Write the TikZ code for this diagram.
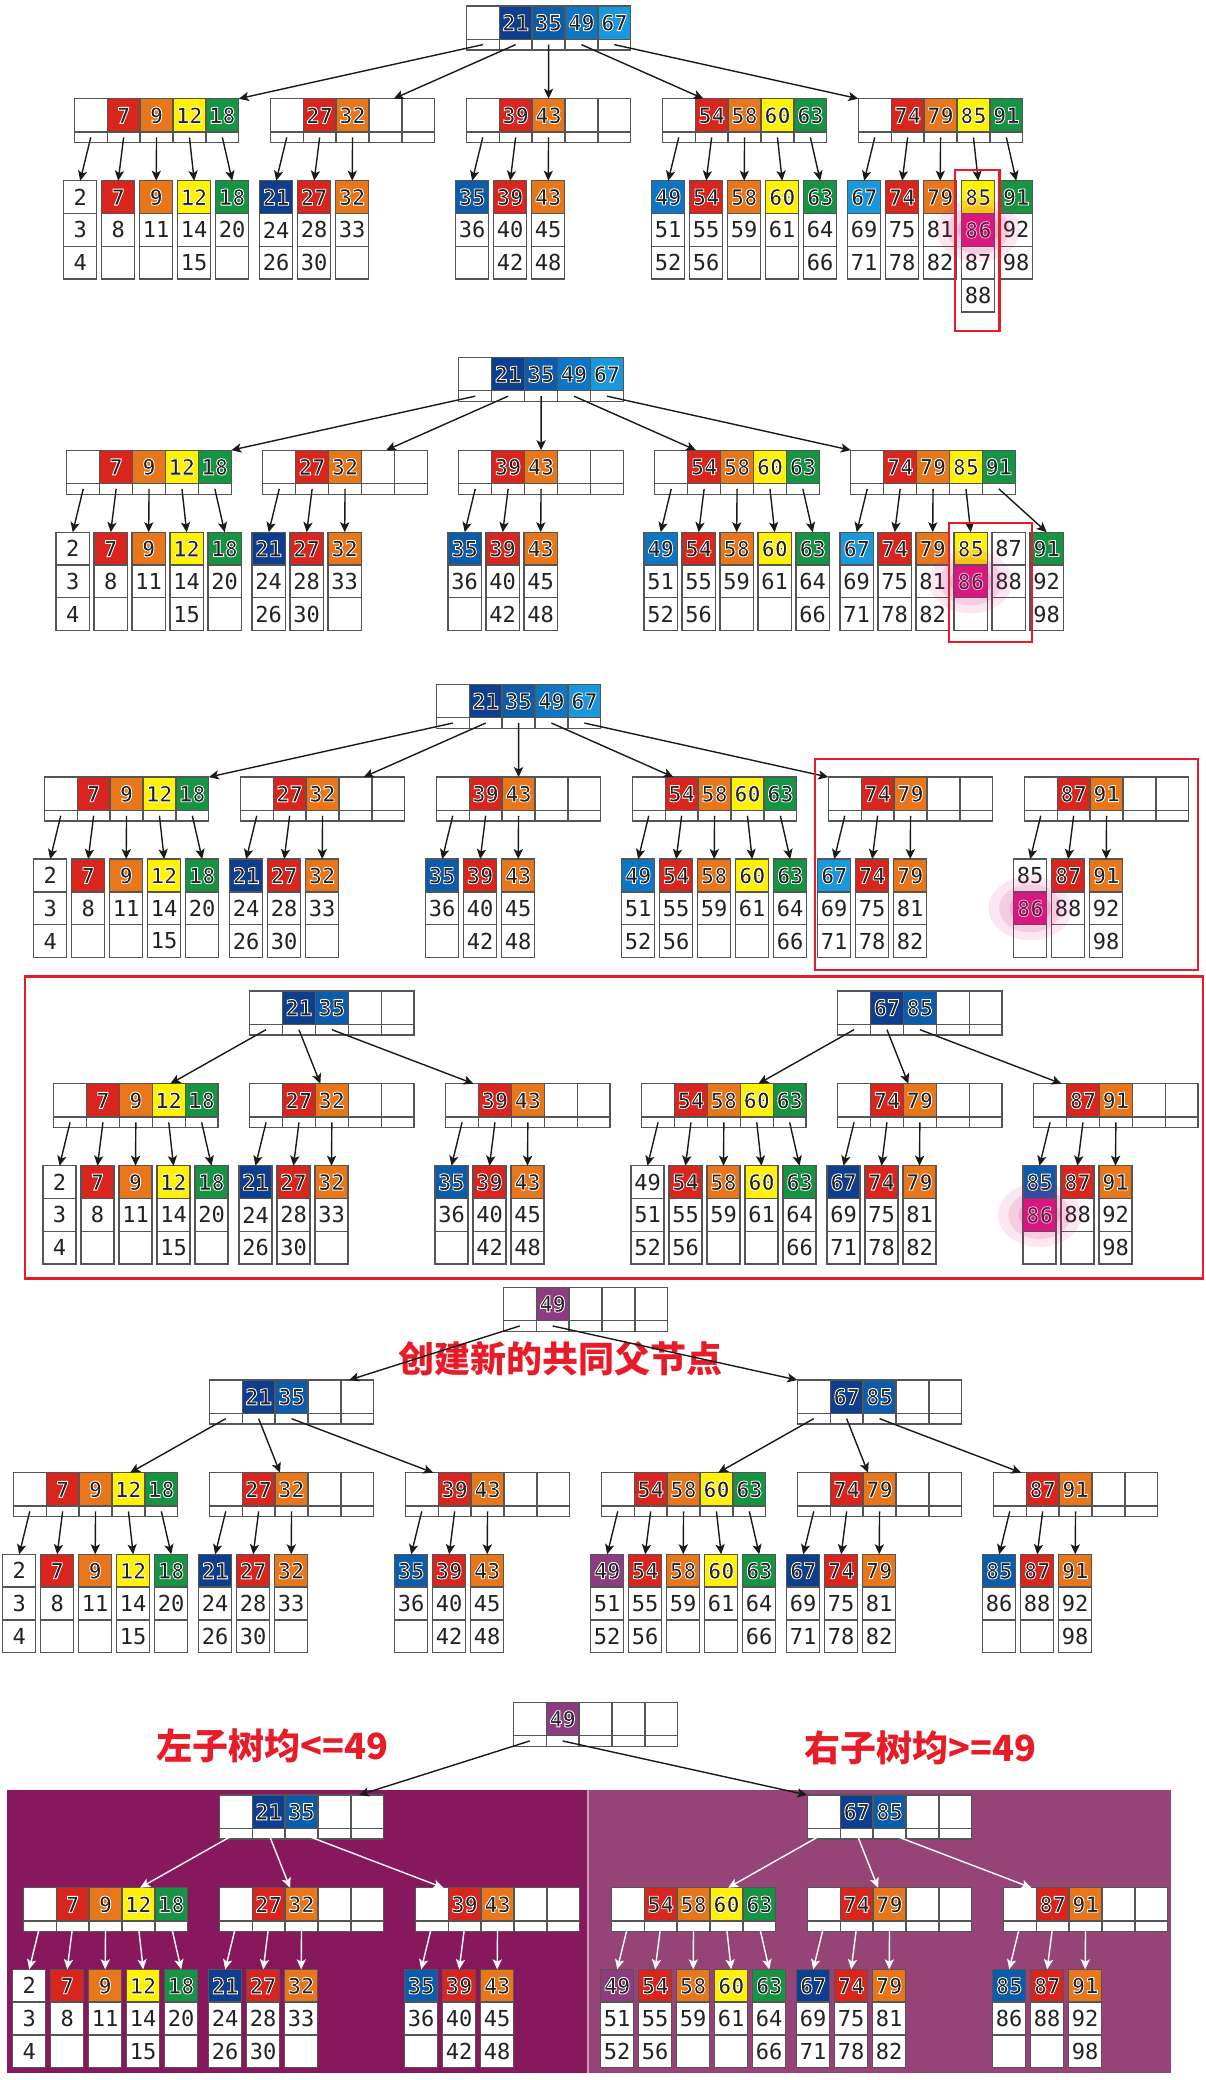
\documentclass[tikz,border=0pt]{standalone}
\usepackage{fontspec}
\usetikzlibrary{arrows.meta,calc}
\setmonofont{DejaVu Sans Mono}
\newfontfamily\cjk{Noto Sans CJK SC}
\definecolor{cline}{HTML}{555555}
\definecolor{tdark}{HTML}{222222}
\definecolor{arrowc}{HTML}{1A1A1A}
\definecolor{w}{HTML}{FFFFFF}
\definecolor{navy}{HTML}{0E3E8E}
\definecolor{kblue}{HTML}{0B5CAA}
\definecolor{mblue}{HTML}{0C75C4}
\definecolor{lblue}{HTML}{1A98DC}
\definecolor{kred}{HTML}{D8261E}
\definecolor{korange}{HTML}{E8771C}
\definecolor{kyellow}{HTML}{FFF200}
\definecolor{kgreen}{HTML}{159443}
\definecolor{kpurple}{HTML}{8E3C80}
\definecolor{hl}{HTML}{D8177F}
\definecolor{markred}{HTML}{E81C28}
\definecolor{lpurple}{HTML}{87185E}
\definecolor{rpurple}{HTML}{964477}
\newcommand\numfont{\ttfamily\fontsize{11pt}{11pt}\selectfont}
\def\wname{w}
% keys on a coloured cell get a white rim (fill + stroke text mode)
\newcommand\ctext[2]{\edef\tmpc{#1}\ifx\tmpc\wname#2\else
  \bfseries\special{pdf:literal direct 1 1 1 RG 0.42 w 2 Tr}#2\special{pdf:literal direct 0 Tr}\fi}
% inner node: blank first slot, four keys, pointer strip
\newcommand\inode[4]{%
  \node[ibox] (#1) at (#2,#3) {};
  \foreach \c/\t [count=\i from 0] in {w/{},#4} {
    \node[kcell, fill=\c] (#1-k\i) at ($(#1.north west)+(\i*32.9,0)$) {\ctext{\c}{\t}};
    \node[pcell] (#1-p\i) at ($(#1.north west)+(\i*32.9,33.3)$) {};
  }%
}
\newcommand\leaf[4]{%
  \foreach \c/\t [count=\i] in {#4} {
    \node[lcell, fill=\c] (#1-\i) at (#2,{#3+(\i-1)*32.8}) {\ctext{\c}{\t}};
  }%
}
\newcommand\lthree[6]{\leaf{#1-l0}{#2}{#3}{#4}\leaf{#1-l1}{#2+38}{#3}{#5}\leaf{#1-l2}{#2+76}{#3}{#6}}
\newcommand\lfive[8]{\lthree{#1}{#2}{#3}{#4}{#5}{#6}\leaf{#1-l3}{#2+114}{#3}{#7}\leaf{#1-l4}{#2+152}{#3}{#8}}
\newcommand\ndA[3]{\inode{#1}{#2}{#3}{kred/7,korange/9,kyellow/12,kgreen/18}}
\newcommand\ndB[3]{\inode{#1}{#2}{#3}{kred/27,korange/32,w/{},w/{}}}
\newcommand\ndC[3]{\inode{#1}{#2}{#3}{kred/39,korange/43,w/{},w/{}}}
\newcommand\ndD[3]{\inode{#1}{#2}{#3}{kred/54,korange/58,kyellow/60,kgreen/63}}
\newcommand\ndE[3]{\inode{#1}{#2}{#3}{kred/74,korange/79,w/{},w/{}}}
\newcommand\ndF[3]{\inode{#1}{#2}{#3}{kred/87,korange/91,w/{},w/{}}}
\newcommand\grpA[3]{\lfive{#1}{#2}{#3}{w/2,w/3,w/4}{kred/7,w/8,w/{}}{korange/9,w/11,w/{}}{kyellow/12,w/14,w/15}{kgreen/18,w/20,w/{}}}
\newcommand\grpB[3]{\lthree{#1}{#2}{#3}{navy/21,w/24,w/26}{kred/27,w/28,w/30}{korange/32,w/33,w/{}}}
\newcommand\grpC[3]{\lthree{#1}{#2}{#3}{kblue/35,w/36,w/{}}{kred/39,w/40,w/42}{korange/43,w/45,w/48}}
\newcommand\grpD[4]{\lfive{#1}{#2}{#3}{#4/49,w/51,w/52}{kred/54,w/55,w/56}{korange/58,w/59,w/{}}{kyellow/60,w/61,w/{}}{kgreen/63,w/64,w/66}}
\newcommand\grpE[4]{\lthree{#1}{#2}{#3}{#4/67,w/69,w/71}{kred/74,w/75,w/78}{korange/79,w/81,w/82}}
\newcommand\grpF[5]{\lthree{#1}{#2}{#3}{#4/85,#5/86,w/{}}{kred/87,w/88,w/{}}{korange/91,w/92,w/98}}
\newcommand\fan[3]{\foreach \ch/\f [count=\i from 0] in {#3} {\draw[#2] (#1-p\i.center) -- ($(\ch.north west)!\f!(\ch.north east)$);}}
\newcommand\down[3]{\foreach \i in {0,...,#3} {\draw[#2] (#1-p\i.center) -- (#1-l\i-1.north);}}
\newcommand\glow[1]{\foreach \r/\o in {32/.10,24/.13,16/.16} {\fill[hl, opacity=\o] (#1.center) ellipse [x radius=\r*1.3, y radius=\r];}}

\begin{document}
\begin{tikzpicture}[x=0.5pt, y=-0.5pt,
  ibox/.style={anchor=north west, minimum width=82.25pt, minimum height=22pt, inner sep=0pt, outer sep=0pt},
  kcell/.style={anchor=north west, draw=cline, line width=0.65pt, minimum width=16.45pt, minimum height=16.65pt,
                inner sep=0pt, outer sep=0pt, font=\numfont, text=tdark},
  pcell/.style={anchor=north west, draw=cline, line width=0.65pt, fill=white, minimum width=16.45pt,
                minimum height=5.35pt, inner sep=0pt, outer sep=0pt},
  lcell/.style={anchor=north west, draw=cline, line width=0.65pt, minimum width=16.6pt, minimum height=16.4pt,
                inner sep=0pt, outer sep=0pt, font=\numfont, text=tdark},
  arr/.style={-{Stealth[length=5pt, width=4.6pt, inset=1.2pt]}, draw=arrowc, line width=0.7pt},
  warr/.style={arr, draw=white},
  redbox/.style={draw=markred, line width=1.1pt},
  cnote/.style={font=\cjk\bfseries\fontsize{18pt}{20pt}\selectfont, text=markred, inner sep=0pt}
]
\useasboundingbox (0,0) rectangle (1205,2080);
\fill[white] (0,0) rectangle (1205,2080);
\fill[lpurple] (7.1,1790) rectangle (588,2072.7);
\fill[rpurple] (588,1790) rectangle (1170.7,2072.7);
\draw[rpurple!55!white, line width=1pt] (588,1790) -- (588,2072.7);

% step 1
\begin{scope}
\inode{p1r}{466.3}{6}{navy/21,kblue/35,mblue/49,lblue/67}
\ndA{p1a1}{74.3}{98.7}
\ndB{p1a2}{270.3}{98.7}
\ndC{p1a3}{466.3}{98.7}
\ndD{p1a4}{662.3}{98.7}
\inode{p1a5}{858.3}{98.7}{kred/74,korange/79,kyellow/85,kgreen/91}
\grpA{p1a1}{63.6}{180.7}
\grpB{p1a2}{259.6}{180.7}
\grpC{p1a3}{455.6}{180.7}
\grpD{p1a4}{651.6}{180.7}{mblue}
\grpE{p1a5}{847.6}{180.7}{lblue}
\leaf{p1a5-l3}{961.6}{180.7}{kyellow/85,hl/86,w/87,w/88}
\leaf{p1a5-l4}{999.6}{180.7}{kgreen/91,w/92,w/98}
\glow{p1a5-l3-2}
\fan{p1r}{arr}{p1a1/1,p1a2/.75,p1a3/.5,p1a4/.25,p1a5/0}
\down{p1a1}{arr}{4}
\down{p1a2}{arr}{2}
\down{p1a3}{arr}{2}
\down{p1a4}{arr}{4}
\down{p1a5}{arr}{4}
\draw[redbox] ($(p1a5-l3-1.north west)+(-6.3,-10.7)$) rectangle ($(p1a5-l3-4.south east)+(4.6,19)$);
\end{scope}

% step 2
\begin{scope}[shift={(-7.5,351.5)}]
\inode{p2r}{466.3}{6}{navy/21,kblue/35,mblue/49,lblue/67}
\ndA{p2a1}{74.3}{98.7}
\ndB{p2a2}{270.3}{98.7}
\ndC{p2a3}{466.3}{98.7}
\ndD{p2a4}{662.3}{98.7}
\inode{p2a5}{858.3}{98.7}{kred/74,korange/79,kyellow/85,kgreen/91}
\grpA{p2a1}{63.6}{180.7}
\grpB{p2a2}{259.6}{180.7}
\grpC{p2a3}{455.6}{180.7}
\grpD{p2a4}{651.6}{180.7}{mblue}
\grpE{p2a5}{847.6}{180.7}{lblue}
\leaf{p2a5-l3}{961.6}{180.7}{kyellow/85,hl/86,w/{}}
\leaf{p2a5-l4}{999.6}{180.7}{w/87,w/88,w/{}}
\leaf{p2a5-l5}{1037.6}{180.7}{kgreen/91,w/92,w/98}
\glow{p2a5-l3-2}
\fan{p2r}{arr}{p2a1/1,p2a2/.75,p2a3/.5,p2a4/.25,p2a5/0}
\down{p2a1}{arr}{4}
\down{p2a2}{arr}{2}
\down{p2a3}{arr}{2}
\down{p2a4}{arr}{4}
\down{p2a5}{arr}{3}
\draw[arr] (p2a5-p4.center) -- (p2a5-l5-1.north);
\draw[redbox] ($(p2a5-l3-1.north west)+(-5,-9)$) rectangle ($(p2a5-l4-3.south east)+(6.5,11.6)$);
\end{scope}

% step 3
\begin{scope}[shift={(-30,678.4)}]
\inode{p3r}{466.3}{6}{navy/21,kblue/35,mblue/49,lblue/67}
\ndA{p3a1}{74.3}{98.7}
\ndB{p3a2}{270.3}{98.7}
\ndC{p3a3}{466.3}{98.7}
\ndD{p3a4}{662.3}{98.7}
\ndE{p3a5}{858.3}{98.7}
\ndF{p3a6}{1054.3}{98.7}
\grpA{p3a1}{63.6}{180.7}
\grpB{p3a2}{259.6}{180.7}
\grpC{p3a3}{455.6}{180.7}
\grpD{p3a4}{651.6}{180.7}{mblue}
\grpE{p3a5}{847.6}{180.7}{lblue}
\grpF{p3a6}{1043.6}{180.7}{w}{hl}
\glow{p3a6-l0-2}
\fan{p3r}{arr}{p3a1/1,p3a2/.75,p3a3/.5,p3a4/.25,p3a5/0}
\down{p3a1}{arr}{4}
\down{p3a2}{arr}{2}
\down{p3a3}{arr}{2}
\down{p3a4}{arr}{4}
\down{p3a5}{arr}{2}
\down{p3a6}{arr}{2}
\draw[redbox] ($(p3a5.north west)+(-13.5,-18.3)$) rectangle ($(p3a6.north east |- p3a6-l2-3.south)+(9.5,12.6)$);
\end{scope}

% step 4
\draw[redbox, line width=1.3pt] (24.9,976.7) rectangle (1203,1278.3);
\begin{scope}[shift={(-20.7,985)}]
\inode{p4s1}{270.3}{6}{navy/21,kblue/35,w/{},w/{}}
\inode{p4s2}{858.3}{6}{navy/67,kblue/85,w/{},w/{}}
\ndA{p4a1}{74.3}{98.7}
\ndB{p4a2}{270.3}{98.7}
\ndC{p4a3}{466.3}{98.7}
\ndD{p4a4}{662.3}{98.7}
\ndE{p4a5}{858.3}{98.7}
\ndF{p4a6}{1054.3}{98.7}
\grpA{p4a1}{63.6}{180.7}
\grpB{p4a2}{259.6}{180.7}
\grpC{p4a3}{455.6}{180.7}
\grpD{p4a4}{651.6}{180.7}{w}
\grpE{p4a5}{847.6}{180.7}{navy}
\grpF{p4a6}{1043.6}{180.7}{kblue}{hl}
\glow{p4a6-l0-2}
\fan{p4s1}{arr}{p4a1/.71,p4a2/.43,p4a3/.17}
\fan{p4s2}{arr}{p4a4/.71,p4a5/.43,p4a6/.17}
\down{p4a1}{arr}{4}
\down{p4a2}{arr}{2}
\down{p4a3}{arr}{2}
\down{p4a4}{arr}{4}
\down{p4a5}{arr}{2}
\down{p4a6}{arr}{2}
\end{scope}

% step 5
\node[cnote] (newroot) at (560.5,1359) {创建新的共同父节点};
\begin{scope}[shift={(-61,1281.3)}]
\inode{p5t}{564.3}{6}{kpurple/49,w/{},w/{},w/{}}
\inode{p5s1}{270.3}{98.7}{navy/21,kblue/35,w/{},w/{}}
\inode{p5s2}{858.3}{98.7}{navy/67,kblue/85,w/{},w/{}}
\ndA{p5a1}{74.3}{191.4}
\ndB{p5a2}{270.3}{191.4}
\ndC{p5a3}{466.3}{191.4}
\ndD{p5a4}{662.3}{191.4}
\ndE{p5a5}{858.3}{191.4}
\ndF{p5a6}{1054.3}{191.4}
\grpA{p5a1}{63.6}{273}
\grpB{p5a2}{259.6}{273}
\grpC{p5a3}{455.6}{273}
\grpD{p5a4}{651.6}{273}{kpurple}
\grpE{p5a5}{847.6}{273}{navy}
\grpF{p5a6}{1043.6}{273}{kblue}{w}
\fan{p5t}{arr}{p5s1/.85,p5s2/0}
\fan{p5s1}{arr}{p5a1/.71,p5a2/.43,p5a3/.17}
\fan{p5s2}{arr}{p5a4/.71,p5a5/.43,p5a6/.17}
\down{p5a1}{arr}{4}
\down{p5a2}{arr}{2}
\down{p5a3}{arr}{2}
\down{p5a4}{arr}{4}
\down{p5a5}{arr}{2}
\down{p5a6}{arr}{2}
\end{scope}

% step 6
\node[cnote] (leftnote) at (272.5,1746) {左子树均<=49};
\node[cnote] (rightnote) at (920.8,1748) {右子树均>=49};
\begin{scope}[shift={(-51,1696.3)}]
\inode{p6t}{564.3}{6}{kpurple/49,w/{},w/{},w/{}}
\inode{p6s1}{270.3}{98.7}{navy/21,kblue/35,w/{},w/{}}
\inode{p6s2}{858.3}{98.7}{navy/67,kblue/85,w/{},w/{}}
\ndA{p6a1}{74.3}{191.4}
\ndB{p6a2}{270.3}{191.4}
\ndC{p6a3}{466.3}{191.4}
\ndD{p6a4}{662.3}{191.4}
\ndE{p6a5}{858.3}{191.4}
\ndF{p6a6}{1054.3}{191.4}
\grpA{p6a1}{63.6}{273}
\grpB{p6a2}{259.6}{273}
\grpC{p6a3}{455.6}{273}
\grpD{p6a4}{651.6}{273}{kpurple}
\grpE{p6a5}{847.6}{273}{navy}
\grpF{p6a6}{1043.6}{273}{kblue}{w}
\fan{p6t}{arr}{p6s1/.85,p6s2/0}
\fan{p6s1}{warr}{p6a1/.71,p6a2/.43,p6a3/.17}
\fan{p6s2}{warr}{p6a4/.71,p6a5/.43,p6a6/.17}
\down{p6a1}{warr}{4}
\down{p6a2}{warr}{2}
\down{p6a3}{warr}{2}
\down{p6a4}{warr}{4}
\down{p6a5}{warr}{2}
\down{p6a6}{warr}{2}
\end{scope}
\end{tikzpicture}
\end{document}
